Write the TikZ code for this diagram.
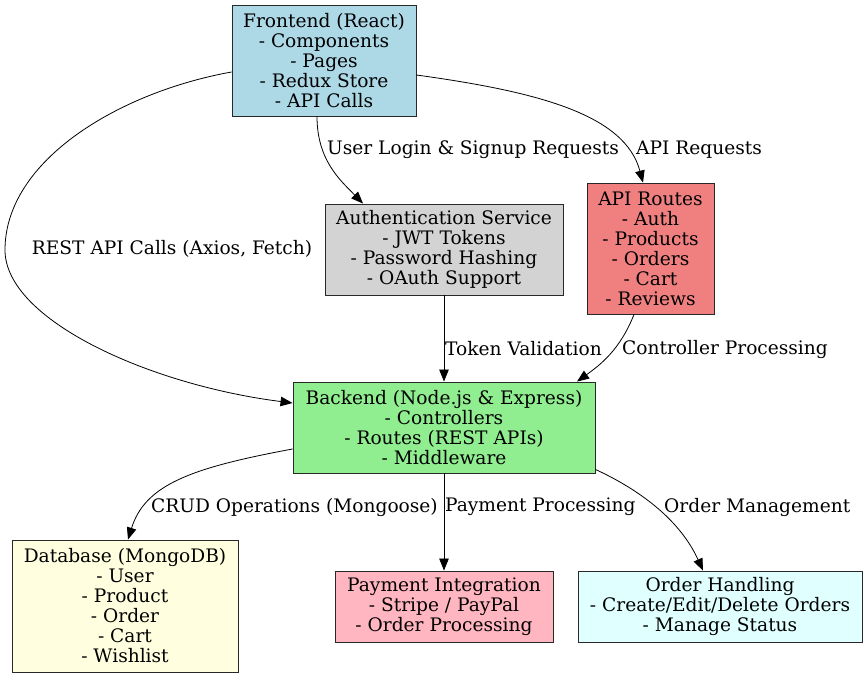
\documentclass[tikz,border=0pt]{standalone}
\usepackage{fontspec}
\setmainfont{DejaVu Serif}
\usetikzlibrary{arrows.meta}
\definecolor{cfe}{RGB}{173,216,230}
\definecolor{cau}{RGB}{211,211,211}
\definecolor{capi}{RGB}{240,128,128}
\definecolor{cbe}{RGB}{144,238,144}
\definecolor{cdb}{RGB}{255,255,224}
\definecolor{cpay}{RGB}{255,182,193}
\definecolor{cord}{RGB}{224,255,255}
\definecolor{bord}{RGB}{40,40,40}
\tikzset{
  box/.style={draw=bord, line width=0.9pt, align=center, inner sep=0pt, font=\fontsize{18.6}{20}\selectfont},
  conn/.style={line width=0.8pt, -{Triangle[length=12pt,width=9.5pt]}},
  lbl/.style={font=\fontsize{18.6}{20}\selectfont, inner sep=0pt, anchor=west}
}
\begin{document}
\begin{tikzpicture}[x=1pt,y=-1pt]
\useasboundingbox (0,0) rectangle (868,677);
\node[box, fill=cfe, minimum width=184pt, minimum height=111pt] (fe) at (324,60.5) {Frontend (React)\\- Components\\- Pages\\- Redux Store\\- API Calls};
\node[box, fill=cau, minimum width=238pt, minimum height=91pt] (au) at (444,249.5) {Authentication Service\\- JWT Tokens\\- Password Hashing\\- OAuth Support};
\node[box, fill=capi, minimum width=127pt, minimum height=131pt] (api) at (650.5,248.5) {API Routes\\- Auth\\- Products\\- Orders\\- Cart\\- Reviews};
\node[box, fill=cbe, minimum width=302pt, minimum height=91pt] (be) at (444,427.5) {Backend (Node.js \& Express)\\- Controllers\\- Routes (REST APIs)\\- Middleware};
\node[box, fill=cdb, minimum width=226pt, minimum height=132pt] (db) at (125,606) {Database (MongoDB)\\- User\\- Product\\- Order\\- Cart\\- Wishlist};
\node[box, fill=cpay, minimum width=218pt, minimum height=71pt] (pay) at (444,606.5) {Payment Integration\\- Stripe / PayPal\\- Order Processing};
\node[box, fill=cord, minimum width=284pt, minimum height=71pt] (ord) at (720,606.5) {Order Handling\\- Create/Edit/Delete Orders\\- Manage Status};

\draw[conn] ([xshift=-7pt]fe.south) .. controls (317,160) and (340,180) .. ([xshift=-81pt]au.north);
\draw[conn] ([yshift=-14.5pt]fe.east) .. controls (540,92) and (625,115) .. ([xshift=-7.5pt]api.north);
\draw[conn] ([yshift=-11.5pt]fe.west) .. controls (120,92) and (5,160) .. (5,250) .. controls (5,320) and (150,385) .. ([yshift=24.5pt]be.west);
\draw[conn] (au.south) -- (be.north);
\draw[conn] ([xshift=-16.5pt]api.south) .. controls (620,350) and (600,365) .. ([xshift=133pt]be.north);
\draw[conn] ([yshift=-21.5pt]be.west) .. controls (190,468) and (145,485) .. ([xshift=3pt]db.north);
\draw[conn] (be.south) -- (pay.north);
\draw[conn] ([yshift=4pt]be.south east) .. controls (640,490) and (680,520) .. ([xshift=-17pt]ord.north);

\node[lbl] (l1) at (327,150) {User Login \& Signup Requests};
\node[lbl] (l2) at (636,150) {API Requests};
\node[lbl, anchor=center] (l3) at (172,249) {REST API Calls (Axios, Fetch)};
\node[lbl] (l4) at (445,349) {Token Validation};
\node[lbl] (l5) at (622,349) {Controller Processing};
\node[lbl] (l6) at (151,507) {CRUD Operations (Mongoose)};
\node[lbl] (l7) at (445,507) {Payment Processing};
\node[lbl] (l8) at (664,507) {Order Management};
\end{tikzpicture}
\end{document}
